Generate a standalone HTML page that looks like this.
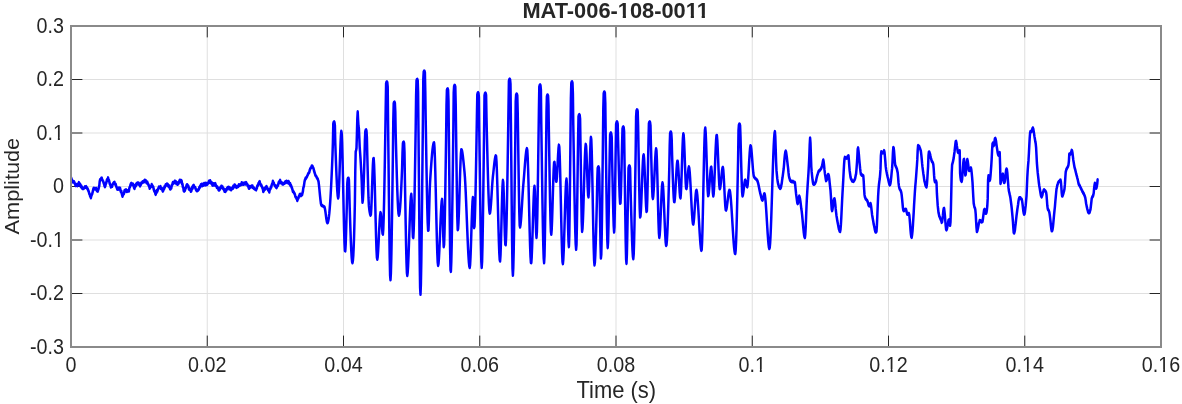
<!DOCTYPE html>
<html><head><meta charset="utf-8"><title>MAT-006-108-0011</title>
<style>html,body{margin:0;padding:0;background:#fff;}body{width:1182px;height:404px;overflow:hidden;}svg{display:block;will-change:transform;}text{font-family:"Liberation Sans",sans-serif;fill:#262626;}.t{font-size:20px;}.l{font-size:21.5px;}.h{font-size:21.6px;font-weight:bold;}</style></head><body>
<svg width="1182" height="404" viewBox="0 0 1182 404">
<rect width="1182" height="404" fill="#fff"/>
<path d="M207.25 26.0 V347.0 M343.50 26.0 V347.0 M479.75 26.0 V347.0 M616.00 26.0 V347.0 M752.25 26.0 V347.0 M888.50 26.0 V347.0 M1024.75 26.0 V347.0 M71.0 79.50 H1161.0 M71.0 133.00 H1161.0 M71.0 186.50 H1161.0 M71.0 240.00 H1161.0 M71.0 293.50 H1161.0" stroke="#dfdfdf" stroke-width="1" fill="none"/>
<path d="M207.25 27.0 v10.4 M207.25 346.0 v-10.4 M343.50 27.0 v10.4 M343.50 346.0 v-10.4 M479.75 27.0 v10.4 M479.75 346.0 v-10.4 M616.00 27.0 v10.4 M616.00 346.0 v-10.4 M752.25 27.0 v10.4 M752.25 346.0 v-10.4 M888.50 27.0 v10.4 M888.50 346.0 v-10.4 M1024.75 27.0 v10.4 M1024.75 346.0 v-10.4 M72.0 79.50 h10.4 M1160.0 79.50 h-10.4 M72.0 133.00 h10.4 M1160.0 133.00 h-10.4 M72.0 186.50 h10.4 M1160.0 186.50 h-10.4 M72.0 240.00 h10.4 M1160.0 240.00 h-10.4 M72.0 293.50 h10.4 M1160.0 293.50 h-10.4" stroke="#262626" stroke-width="1" fill="none"/>
<g transform="scale(1 1.350)"><path d="M71.3 132.05 L71.7 133.43 L72.1 133.27 L72.5 134.04 L72.9 134.77 L73.3 134.47 L73.7 134.78 L74.1 134.59 L74.5 135.33 L74.9 136.14 L75.3 136.85 L75.7 137.47 L76.1 137.24 L76.5 136.71 L76.9 136.87 L77.3 137.60 L77.7 136.38 L78.1 136.46 L78.5 136.88 L78.9 135.25 L79.3 135.99 L79.7 136.94 L80.1 136.36 L80.5 137.32 L80.9 138.35 L81.3 137.67 L81.7 138.63 L82.1 139.36 L82.5 139.62 L82.9 139.68 L83.3 139.59 L83.7 139.67 L84.1 139.13 L84.5 138.89 L84.9 138.34 L85.3 138.68 L85.7 138.57 L86.1 138.25 L86.5 139.01 L86.9 138.97 L87.3 139.64 L87.7 139.90 L88.1 140.97 L88.5 141.33 L88.9 142.26 L89.3 143.46 L89.7 143.81 L90.1 145.32 L90.5 144.98 L90.9 146.48 L91.3 145.22 L91.7 144.37 L92.1 143.77 L92.5 142.67 L92.9 141.59 L93.3 140.08 L93.7 139.38 L94.1 139.82 L94.5 139.52 L94.9 139.76 L95.3 140.12 L95.7 139.97 L96.1 139.52 L96.5 140.41 L96.9 141.32 L97.3 141.21 L97.7 141.62 L98.1 140.86 L98.5 139.94 L98.9 138.58 L99.3 137.55 L99.7 134.51 L100.1 133.13 L100.5 132.84 L100.9 132.77 L101.3 131.95 L101.7 131.88 L102.1 132.81 L102.5 133.43 L102.9 134.05 L103.3 134.53 L103.7 135.64 L104.1 136.44 L104.5 137.64 L104.9 138.35 L105.3 137.77 L105.7 136.54 L106.1 135.79 L106.5 134.72 L106.9 133.25 L107.3 132.82 L107.7 133.03 L108.1 131.69 L108.5 133.55 L108.9 133.46 L109.3 134.58 L109.7 135.88 L110.1 136.73 L110.5 136.88 L110.9 138.58 L111.3 138.21 L111.7 138.03 L112.1 138.05 L112.5 136.79 L112.9 136.37 L113.3 135.91 L113.7 135.45 L114.1 135.69 L114.5 135.02 L114.9 136.11 L115.3 136.65 L115.7 136.53 L116.1 137.80 L116.5 138.48 L116.9 139.40 L117.3 140.13 L117.7 139.45 L118.1 139.63 L118.5 140.13 L118.9 139.20 L119.3 139.20 L119.7 139.59 L120.1 139.42 L120.5 141.09 L120.9 142.02 L121.3 141.64 L121.7 143.21 L122.1 144.41 L122.5 145.42 L122.9 144.31 L123.3 143.45 L123.7 143.74 L124.1 143.03 L124.5 141.24 L124.9 140.94 L125.3 141.31 L125.7 141.47 L126.1 140.52 L126.5 141.41 L126.9 141.80 L127.3 141.59 L127.7 141.20 L128.1 141.17 L128.5 141.59 L128.9 141.57 L129.3 139.57 L129.7 138.59 L130.1 138.19 L130.5 136.86 L130.9 136.17 L131.3 135.79 L131.7 136.51 L132.1 136.74 L132.5 136.32 L132.9 136.33 L133.3 137.15 L133.7 138.07 L134.1 139.11 L134.5 139.67 L134.9 138.14 L135.3 137.21 L135.7 137.80 L136.1 137.30 L136.5 135.98 L136.9 135.85 L137.3 135.48 L137.7 135.50 L138.1 136.34 L138.5 135.55 L138.9 136.38 L139.3 136.83 L139.7 136.87 L140.1 137.74 L140.5 136.11 L140.9 136.71 L141.3 135.48 L141.7 135.56 L142.1 135.31 L142.5 134.73 L142.9 135.01 L143.3 134.81 L143.7 134.28 L144.1 134.69 L144.5 133.63 L144.9 133.48 L145.3 133.64 L145.7 133.97 L146.1 134.02 L146.5 135.40 L146.9 135.59 L147.3 134.88 L147.7 135.84 L148.1 136.23 L148.5 137.15 L148.9 137.48 L149.3 138.38 L149.7 139.52 L150.1 138.56 L150.5 138.62 L150.9 138.17 L151.3 138.04 L151.7 136.66 L152.1 137.33 L152.5 137.84 L152.9 138.19 L153.3 138.65 L153.7 140.17 L154.1 141.16 L154.5 141.85 L154.9 141.68 L155.3 143.47 L155.7 143.97 L156.1 143.04 L156.5 142.62 L156.9 141.09 L157.3 141.77 L157.7 140.79 L158.1 139.83 L158.5 139.51 L158.9 138.56 L159.3 138.64 L159.7 138.46 L160.1 138.90 L160.5 138.14 L160.9 139.70 L161.3 139.47 L161.7 139.88 L162.1 139.80 L162.5 141.08 L162.9 141.65 L163.3 140.98 L163.7 139.79 L164.1 139.95 L164.5 138.33 L164.9 138.69 L165.3 137.70 L165.7 136.87 L166.1 137.02 L166.5 137.03 L166.9 136.31 L167.3 137.03 L167.7 136.48 L168.1 137.63 L168.5 138.04 L168.9 137.46 L169.3 138.79 L169.7 138.81 L170.1 139.95 L170.5 140.09 L170.9 139.51 L171.3 139.38 L171.7 137.32 L172.1 137.24 L172.5 136.11 L172.9 135.16 L173.3 135.82 L173.7 135.13 L174.1 135.24 L174.5 134.45 L174.9 134.12 L175.3 135.42 L175.7 134.49 L176.1 134.77 L176.5 136.14 L176.9 135.94 L177.3 136.07 L177.7 136.50 L178.1 135.34 L178.5 135.81 L178.9 135.07 L179.3 134.24 L179.7 133.48 L180.1 133.47 L180.5 134.58 L180.9 133.88 L181.3 133.66 L181.7 134.23 L182.1 136.24 L182.5 136.40 L182.9 138.59 L183.3 138.89 L183.7 141.31 L184.1 141.62 L184.5 140.37 L184.9 141.10 L185.3 139.64 L185.7 139.57 L186.1 138.64 L186.5 137.41 L186.9 136.87 L187.3 136.87 L187.7 137.35 L188.1 137.69 L188.5 138.21 L188.9 140.08 L189.3 139.35 L189.7 140.49 L190.1 140.41 L190.5 141.02 L190.9 141.71 L191.3 141.41 L191.7 140.12 L192.1 138.81 L192.5 139.65 L192.9 137.63 L193.3 137.56 L193.7 137.25 L194.1 138.17 L194.5 138.53 L194.9 138.70 L195.3 138.88 L195.7 140.04 L196.1 140.59 L196.5 141.09 L196.9 141.33 L197.3 140.85 L197.7 141.06 L198.1 140.84 L198.5 140.35 L198.9 140.29 L199.3 138.86 L199.7 138.94 L200.1 137.97 L200.5 138.05 L200.9 136.79 L201.3 137.12 L201.7 136.47 L202.1 136.54 L202.5 137.53 L202.9 136.53 L203.3 137.30 L203.7 136.67 L204.1 135.88 L204.5 136.94 L204.9 135.85 L205.3 136.99 L205.7 135.78 L206.1 136.77 L206.5 135.96 L206.9 135.98 L207.3 136.62 L207.7 135.66 L208.1 135.63 L208.5 135.47 L208.9 134.26 L209.3 135.07 L209.7 134.94 L210.1 133.79 L210.5 134.76 L210.9 134.78 L211.3 135.89 L211.7 135.27 L212.1 136.39 L212.5 137.17 L212.9 137.04 L213.3 136.08 L213.7 137.11 L214.1 136.18 L214.5 136.99 L214.9 136.49 L215.3 135.95 L215.7 136.97 L216.1 137.58 L216.5 137.96 L216.9 138.92 L217.3 138.45 L217.7 139.01 L218.1 139.44 L218.5 140.57 L218.9 140.87 L219.3 140.79 L219.7 140.44 L220.1 139.62 L220.5 138.66 L220.9 138.80 L221.3 137.99 L221.7 137.92 L222.1 139.01 L222.5 138.31 L222.9 139.42 L223.3 139.87 L223.7 139.78 L224.1 140.50 L224.5 141.66 L224.9 141.13 L225.3 141.82 L225.7 141.57 L226.1 140.38 L226.5 140.82 L226.9 139.79 L227.3 139.13 L227.7 139.03 L228.1 138.71 L228.5 139.29 L228.9 138.81 L229.3 139.95 L229.7 139.55 L230.1 139.28 L230.5 139.73 L230.9 140.57 L231.3 140.55 L231.7 139.78 L232.1 139.26 L232.5 138.95 L232.9 139.50 L233.3 137.85 L233.7 138.66 L234.1 138.27 L234.5 137.02 L234.9 136.99 L235.3 137.53 L235.7 138.11 L236.1 138.57 L236.5 138.87 L236.9 138.05 L237.3 138.13 L237.7 138.35 L238.1 138.14 L238.5 137.95 L238.9 136.79 L239.3 137.24 L239.7 137.31 L240.1 136.98 L240.5 136.78 L240.9 136.72 L241.3 136.74 L241.7 135.35 L242.1 136.60 L242.5 135.61 L242.9 135.65 L243.3 135.82 L243.7 136.52 L244.1 135.97 L244.5 135.57 L244.9 135.57 L245.3 136.33 L245.7 136.18 L246.1 135.24 L246.5 135.81 L246.9 136.43 L247.3 136.66 L247.7 137.64 L248.1 137.60 L248.5 138.56 L248.9 139.50 L249.3 139.43 L249.7 138.18 L250.1 138.20 L250.5 138.36 L250.9 138.55 L251.3 138.02 L251.7 137.69 L252.1 137.71 L252.5 137.76 L252.9 139.02 L253.3 139.07 L253.7 138.96 L254.1 139.69 L254.5 139.73 L254.9 140.04 L255.3 140.08 L255.7 140.41 L256.1 140.65 L256.5 139.82 L256.9 139.32 L257.3 137.70 L257.7 137.67 L258.1 136.88 L258.5 135.89 L258.9 135.79 L259.3 134.79 L259.7 134.53 L260.1 136.01 L260.5 136.53 L260.9 137.28 L261.3 137.12 L261.7 138.01 L262.1 138.56 L262.5 139.40 L262.9 140.09 L263.3 141.89 L263.7 141.44 L264.1 140.03 L264.5 139.70 L264.9 140.33 L265.3 139.34 L265.7 138.65 L266.1 138.43 L266.5 138.16 L266.9 139.04 L267.3 139.69 L267.7 139.85 L268.1 140.76 L268.5 140.17 L268.9 141.33 L269.3 142.30 L269.7 140.51 L270.1 140.29 L270.5 139.72 L270.9 138.48 L271.3 138.60 L271.7 137.09 L272.1 136.30 L272.5 136.20 L272.9 134.21 L273.3 135.96 L273.7 135.39 L274.1 136.32 L274.5 137.05 L274.9 137.60 L275.3 137.51 L275.7 138.43 L276.1 138.62 L276.5 139.07 L276.9 138.54 L277.3 137.56 L277.7 137.57 L278.1 136.96 L278.5 135.73 L278.9 134.85 L279.3 135.10 L279.7 134.23 L280.1 133.50 L280.5 135.16 L280.9 135.39 L281.3 135.00 L281.7 135.39 L282.1 135.73 L282.5 136.37 L282.9 135.94 L283.3 136.34 L283.7 135.88 L284.1 135.67 L284.5 135.84 L284.9 135.15 L285.3 134.59 L285.7 134.83 L286.1 135.14 L286.5 134.19 L286.9 134.83 L287.3 134.58 L287.7 134.73 L288.1 135.33 L288.5 134.37 L288.9 134.78 L289.3 136.13 L289.7 136.44 L290.1 135.87 L290.5 137.58 L290.9 137.15 L291.3 138.03 L291.7 138.70 L292.1 139.68 L292.5 140.52 L292.9 141.96 L293.3 141.92 L293.7 142.13 L294.1 143.03 L294.5 143.31 L294.9 144.02 L295.3 145.28 L295.7 146.05 L296.1 146.30 L296.5 147.11 L296.9 147.29 L297.3 148.58 L297.7 147.64 L298.1 146.69 L298.5 146.56 L298.9 145.49 L299.3 144.98 L299.7 144.15 L300.1 144.71 L300.5 143.98 L300.9 144.95 L301.3 144.16 L301.7 143.82 L302.1 144.29 L302.5 143.03 L302.9 141.76 L303.3 139.22 L303.7 138.42 L304.1 136.85 L304.5 134.58 L304.9 133.33 L305.3 132.76 L305.7 131.79 L306.1 131.99 L306.5 131.30 L306.9 130.99 L307.3 130.08 L307.7 129.67 L308.1 128.81 L308.5 128.31 L308.9 128.04 L309.3 127.55 L309.7 126.09 L310.1 125.29 L310.5 124.63 L310.9 124.29 L311.3 124.00 L311.7 123.05 L312.1 122.87 L312.5 123.17 L312.9 124.06 L313.3 124.42 L313.7 125.30 L314.1 126.65 L314.5 127.59 L314.9 128.51 L315.3 129.57 L315.7 130.11 L316.1 130.32 L316.5 131.06 L316.9 131.67 L317.3 132.24 L317.7 132.43 L318.1 133.48 L318.5 134.33 L318.9 136.70 L319.3 139.40 L319.7 142.58 L320.1 145.59 L320.5 148.27 L320.9 150.64 L321.3 151.79 L321.7 152.20 L322.1 152.26 L322.5 152.47 L322.9 152.64 L323.3 152.71 L323.7 152.90 L324.1 153.12 L324.5 153.45 L324.9 154.49 L325.3 156.23 L325.7 158.38 L326.1 160.64 L326.5 162.70 L326.9 164.28 L327.3 165.07 L327.7 164.93 L328.1 164.13 L328.5 162.69 L328.9 160.61 L329.3 157.91 L329.7 154.59 L330.1 150.66 L330.5 146.14 L330.9 141.02 L331.3 135.33 L331.7 129.06 L332.1 122.22 L332.5 114.83 L332.9 105.41 L333.3 91.61 L333.7 90.49 L334.1 90.15 L334.5 90.71 L334.9 93.05 L335.3 106.22 L335.7 114.60 L336.1 122.63 L336.5 130.01 L336.9 136.41 L337.3 141.55 L337.7 145.09 L338.1 146.74 L338.5 145.63 L338.9 140.80 L339.3 133.33 L339.7 124.39 L340.1 115.13 L340.5 106.74 L340.9 100.37 L341.3 97.20 L341.7 98.65 L342.1 105.31 L342.5 115.89 L342.9 129.04 L343.3 143.39 L343.7 157.59 L344.1 170.28 L344.5 180.11 L344.9 185.72 L345.3 185.85 L345.7 180.80 L346.1 172.11 L346.5 161.31 L346.9 149.96 L347.3 135.70 L347.7 132.66 L348.1 131.94 L348.5 131.99 L348.9 133.12 L349.3 142.17 L349.7 153.70 L350.1 162.89 L350.5 171.59 L350.9 179.41 L351.3 186.01 L351.7 190.99 L352.1 194.00 L352.5 194.68 L352.9 193.10 L353.3 189.27 L353.7 183.10 L354.1 174.48 L354.5 163.31 L354.9 149.47 L355.3 126.00 L355.7 112.41 L356.1 111.28 L356.5 109.75 L356.9 99.68 L357.3 88.23 L357.7 82.82 L358.1 88.58 L358.5 93.25 L358.9 95.27 L359.3 101.85 L359.7 108.74 L360.1 113.07 L360.5 117.23 L360.9 122.33 L361.3 127.82 L361.7 133.98 L362.1 143.48 L362.5 149.85 L362.9 148.00 L363.3 142.89 L363.7 135.36 L364.1 126.22 L364.5 116.32 L364.9 103.82 L365.3 97.26 L365.7 96.34 L366.1 96.18 L366.5 97.03 L366.9 101.83 L367.3 115.20 L367.7 126.59 L368.1 137.54 L368.5 146.65 L368.9 152.51 L369.3 155.07 L369.7 157.08 L370.1 158.56 L370.5 159.37 L370.9 158.89 L371.3 154.53 L371.7 147.16 L372.1 138.28 L372.5 129.37 L372.9 121.94 L373.3 117.47 L373.7 117.42 L374.1 122.03 L374.5 130.23 L374.9 140.87 L375.3 152.82 L375.7 164.93 L376.1 176.05 L376.5 185.04 L376.9 190.76 L377.3 192.14 L377.7 190.22 L378.1 186.25 L378.5 180.90 L378.9 174.86 L379.3 168.82 L379.7 163.44 L380.1 159.42 L380.5 157.43 L380.9 158.13 L381.3 161.20 L381.7 165.46 L382.1 169.73 L382.5 172.84 L382.9 173.55 L383.3 169.61 L383.7 161.08 L384.1 148.87 L384.5 133.89 L384.9 117.06 L385.3 99.31 L385.7 80.05 L386.1 61.97 L386.5 60.85 L386.9 60.52 L387.3 61.06 L387.7 64.17 L388.1 92.86 L388.5 118.05 L388.9 144.71 L389.3 169.91 L389.7 190.69 L390.1 204.11 L390.5 207.35 L390.9 202.25 L391.3 191.29 L391.7 175.75 L392.1 156.95 L392.5 136.19 L392.9 114.76 L393.3 88.77 L393.7 76.64 L394.1 75.74 L394.5 75.59 L394.9 76.42 L395.3 82.69 L395.7 99.32 L396.1 110.67 L396.5 121.59 L396.9 131.75 L397.3 140.82 L397.7 148.45 L398.1 154.33 L398.5 158.12 L398.9 159.48 L399.3 158.82 L399.7 156.86 L400.1 153.72 L400.5 149.52 L400.9 144.36 L401.3 138.37 L401.7 131.65 L402.1 124.31 L402.5 113.17 L402.9 106.29 L403.3 105.38 L403.7 105.22 L404.1 106.05 L404.5 112.75 L404.9 132.92 L405.3 149.72 L405.7 166.58 L406.1 181.97 L406.5 194.36 L406.9 202.22 L407.3 204.13 L407.7 201.80 L408.1 196.86 L408.5 189.97 L408.9 181.81 L409.3 173.06 L409.7 164.38 L410.1 156.44 L410.5 149.93 L410.9 145.51 L411.3 143.85 L411.7 147.90 L412.1 157.42 L412.5 168.08 L412.9 175.55 L413.3 176.05 L413.7 170.63 L414.1 160.63 L414.5 147.02 L414.9 130.78 L415.3 112.86 L415.7 94.25 L416.1 71.03 L416.5 59.83 L416.9 58.93 L417.3 58.77 L417.7 59.59 L418.1 68.06 L418.5 98.29 L418.9 129.71 L419.3 163.17 L419.7 192.88 L420.1 213.02 L420.5 218.06 L420.9 210.43 L421.3 194.28 L421.7 171.92 L422.1 145.63 L422.5 117.70 L422.9 90.43 L423.3 58.37 L423.7 53.30 L424.1 52.60 L424.5 52.65 L424.9 53.77 L425.3 67.85 L425.7 88.58 L426.1 106.68 L426.5 124.43 L426.9 140.78 L427.3 154.64 L427.7 164.97 L428.1 170.68 L428.5 170.41 L428.9 162.97 L429.3 151.84 L429.7 141.05 L430.1 134.44 L430.5 129.81 L430.9 125.37 L431.3 121.19 L431.7 117.35 L432.1 113.92 L432.5 110.98 L432.9 108.61 L433.3 106.88 L433.7 105.87 L434.1 105.77 L434.5 109.28 L434.9 116.75 L435.3 127.14 L435.7 139.45 L436.1 152.67 L436.5 165.77 L436.9 177.74 L437.3 187.57 L437.7 194.24 L438.1 196.74 L438.5 195.40 L438.9 191.70 L439.3 186.22 L439.7 179.55 L440.1 172.29 L440.5 165.02 L440.9 158.32 L441.3 152.80 L441.7 149.04 L442.1 147.63 L442.5 152.48 L442.9 163.67 L443.3 175.62 L443.7 182.79 L444.1 181.15 L444.5 172.66 L444.9 158.94 L445.3 141.54 L445.7 121.98 L446.1 101.79 L446.5 77.89 L446.9 66.87 L447.3 65.96 L447.7 65.81 L448.1 66.63 L448.5 74.66 L448.9 102.50 L449.3 130.54 L449.7 159.72 L450.1 184.59 L450.5 199.76 L450.9 201.09 L451.3 194.01 L451.7 181.07 L452.1 163.65 L452.5 143.15 L452.9 120.96 L453.3 98.46 L453.7 68.87 L454.1 63.89 L454.5 63.19 L454.9 63.24 L455.3 64.36 L455.7 76.92 L456.1 98.66 L456.5 121.25 L456.9 143.41 L457.3 161.09 L457.7 170.20 L458.1 169.53 L458.5 164.84 L458.9 157.42 L459.3 148.26 L459.7 138.35 L460.1 128.67 L460.5 120.21 L460.9 113.95 L461.3 110.89 L461.7 110.97 L462.1 111.98 L462.5 113.65 L462.9 115.85 L463.3 118.46 L463.7 121.33 L464.1 124.35 L464.5 127.37 L464.9 131.07 L465.3 136.10 L465.7 142.17 L466.1 149.00 L466.5 156.30 L466.9 163.81 L467.3 171.23 L467.7 178.28 L468.1 184.69 L468.5 190.16 L468.9 194.43 L469.3 197.21 L469.7 198.22 L470.1 196.17 L470.5 190.62 L470.9 182.69 L471.3 173.50 L471.7 164.15 L472.1 155.76 L472.5 149.44 L472.9 146.30 L473.3 149.63 L473.7 160.36 L474.1 168.68 L474.5 167.64 L474.9 161.10 L475.3 150.43 L475.7 136.70 L476.1 120.96 L476.5 104.28 L476.9 86.39 L477.3 69.97 L477.7 68.86 L478.1 68.52 L478.5 69.06 L478.9 72.03 L479.3 97.73 L479.7 119.33 L480.1 141.86 L480.5 163.18 L480.9 181.11 L481.3 193.52 L481.7 198.22 L482.1 193.83 L482.5 181.73 L482.9 163.97 L483.3 142.58 L483.7 119.59 L484.1 97.04 L484.5 70.70 L484.9 69.35 L485.3 68.84 L485.7 69.12 L486.1 70.54 L486.5 86.91 L486.9 99.95 L487.3 112.13 L487.7 123.71 L488.1 134.27 L488.5 143.38 L488.9 150.65 L489.3 155.65 L489.7 157.96 L490.1 157.55 L490.5 155.36 L490.9 151.88 L491.3 147.57 L491.7 142.85 L492.1 138.19 L492.5 134.01 L492.9 130.78 L493.3 128.07 L493.7 125.27 L494.1 122.52 L494.5 119.99 L494.9 117.85 L495.3 116.26 L495.7 115.38 L496.1 115.77 L496.5 119.72 L496.9 126.84 L497.3 136.27 L497.7 147.12 L498.1 158.54 L498.5 169.64 L498.9 179.55 L499.3 187.40 L499.7 192.32 L500.1 193.38 L500.5 189.19 L500.9 180.69 L501.3 169.60 L501.7 157.62 L502.1 146.48 L502.5 137.89 L502.9 133.55 L503.3 135.20 L503.7 142.51 L504.1 153.15 L504.5 164.71 L504.9 174.82 L505.3 181.07 L505.7 181.33 L506.1 176.06 L506.5 166.30 L506.9 152.92 L507.3 136.82 L507.7 118.89 L508.1 100.01 L508.5 79.45 L508.9 60.05 L509.3 58.93 L509.7 58.59 L510.1 59.13 L510.5 62.19 L510.9 90.81 L511.3 119.57 L511.7 151.11 L512.1 179.55 L512.5 199.02 L512.9 203.99 L513.3 198.31 L513.7 186.17 L514.1 169.12 L514.5 148.73 L514.9 126.55 L515.3 104.13 L515.7 75.20 L516.1 70.34 L516.5 69.64 L516.9 69.69 L517.3 70.81 L517.7 82.68 L518.1 102.41 L518.5 122.18 L518.9 141.57 L519.3 157.54 L519.7 167.05 L520.1 168.24 L520.5 166.64 L520.9 163.73 L521.3 159.84 L521.7 155.29 L522.1 150.40 L522.5 145.50 L522.9 140.91 L523.3 136.97 L523.7 133.56 L524.1 129.86 L524.5 126.00 L524.9 122.17 L525.3 118.56 L525.7 115.35 L526.1 112.73 L526.5 110.90 L526.9 110.04 L527.3 111.25 L527.7 116.50 L528.1 124.97 L528.5 135.70 L528.9 147.75 L529.3 160.17 L529.7 172.01 L530.1 182.33 L530.5 190.16 L530.9 194.56 L531.3 194.64 L531.7 190.54 L532.1 183.34 L532.5 174.16 L532.9 164.13 L533.3 154.37 L533.7 145.98 L534.1 140.10 L534.5 137.85 L534.9 141.71 L535.3 151.10 L535.7 162.37 L536.1 171.86 L536.5 175.93 L536.9 171.77 L537.3 160.41 L537.7 143.87 L538.1 124.18 L538.5 103.37 L538.9 82.09 L539.3 64.27 L539.7 63.15 L540.1 62.81 L540.5 63.36 L540.9 66.38 L541.3 92.34 L541.7 112.13 L542.1 132.23 L542.5 151.41 L542.9 168.47 L543.3 182.19 L543.7 191.35 L544.1 194.74 L544.5 189.62 L544.9 175.76 L545.3 155.87 L545.7 132.69 L546.1 108.93 L546.5 82.73 L546.9 71.39 L547.3 70.48 L547.7 70.33 L548.1 71.16 L548.5 78.04 L548.9 98.98 L549.3 116.53 L549.7 134.18 L550.1 150.33 L550.5 163.34 L550.9 171.60 L551.3 173.56 L551.7 170.03 L552.1 162.83 L552.5 153.35 L552.9 142.98 L553.3 133.12 L553.7 125.15 L554.1 120.46 L554.5 120.17 L554.9 122.96 L555.3 127.20 L555.7 131.46 L556.1 134.30 L556.5 134.33 L556.9 131.34 L557.3 126.33 L557.7 120.36 L558.1 114.51 L558.5 109.86 L558.9 107.46 L559.3 108.84 L559.7 115.09 L560.1 125.06 L560.5 137.51 L560.9 151.21 L561.3 164.93 L561.7 177.44 L562.1 187.49 L562.5 193.86 L562.9 195.36 L563.3 192.41 L563.7 186.23 L564.1 177.78 L564.5 167.99 L564.9 157.84 L565.3 148.27 L565.7 140.24 L566.1 134.69 L566.5 132.59 L566.9 136.21 L567.3 145.44 L567.7 157.49 L568.1 169.58 L568.5 178.93 L568.9 182.74 L569.3 174.92 L569.7 154.75 L570.1 127.90 L570.5 100.07 L570.9 72.55 L571.3 61.61 L571.7 60.70 L572.1 60.55 L572.5 61.38 L572.9 69.34 L573.3 93.09 L573.7 111.04 L574.1 128.80 L574.5 145.52 L574.9 160.33 L575.3 172.38 L575.7 180.81 L576.1 184.77 L576.5 181.39 L576.9 167.33 L577.3 146.70 L577.7 123.92 L578.1 102.27 L578.5 86.34 L578.9 85.23 L579.3 84.89 L579.7 85.44 L580.1 87.96 L580.5 106.56 L580.9 126.19 L581.3 147.38 L581.7 164.39 L582.1 171.48 L582.5 169.43 L582.9 163.81 L583.3 155.60 L583.7 145.78 L584.1 135.33 L584.5 125.23 L584.9 116.48 L585.3 110.04 L585.7 106.90 L586.1 108.14 L586.5 113.66 L586.9 121.78 L587.3 130.79 L587.7 138.96 L588.1 144.57 L588.5 145.90 L588.9 141.84 L589.3 133.85 L589.7 123.88 L590.1 113.89 L590.5 105.82 L590.9 101.62 L591.3 103.31 L591.7 111.13 L592.1 123.44 L592.5 138.53 L592.9 154.71 L593.3 170.28 L593.7 183.53 L594.1 192.77 L594.5 196.30 L594.9 194.45 L595.3 189.23 L595.7 181.32 L596.1 171.38 L596.5 160.07 L596.9 148.07 L597.3 132.64 L597.7 124.66 L598.1 123.75 L598.5 123.59 L598.9 124.43 L599.3 129.53 L599.7 145.80 L600.1 163.91 L600.5 181.30 L600.9 191.24 L601.3 188.56 L601.7 175.50 L602.1 155.37 L602.5 131.41 L602.9 106.84 L603.3 80.40 L603.7 69.16 L604.1 68.26 L604.5 68.10 L604.9 68.93 L605.3 76.20 L605.7 99.80 L606.1 121.58 L606.5 143.92 L606.9 163.73 L607.3 177.95 L607.7 183.48 L608.1 178.91 L608.5 166.87 L608.9 150.27 L609.3 132.04 L609.7 114.06 L610.1 99.90 L610.5 98.79 L610.9 98.44 L611.3 99.00 L611.7 101.45 L612.1 117.69 L612.5 131.25 L612.9 145.17 L613.3 157.74 L613.7 167.25 L614.1 171.99 L614.5 168.00 L614.9 152.09 L615.3 130.61 L615.7 110.27 L616.1 92.03 L616.5 90.69 L616.9 90.17 L617.3 90.46 L617.7 91.87 L618.1 104.05 L618.5 115.50 L618.9 126.92 L619.3 137.46 L619.7 145.80 L620.1 150.64 L620.5 150.41 L620.9 143.62 L621.3 132.39 L621.7 119.29 L622.1 106.10 L622.5 95.39 L622.9 94.28 L623.3 93.93 L623.7 94.47 L624.1 97.15 L624.5 118.21 L624.9 138.30 L625.3 159.83 L625.7 178.99 L626.1 192.02 L626.5 195.18 L626.9 188.12 L627.3 174.39 L627.7 157.58 L628.1 141.30 L628.5 124.70 L628.9 123.36 L629.3 122.84 L629.7 123.13 L630.1 124.54 L630.5 137.95 L630.9 149.11 L631.3 159.70 L631.7 169.67 L632.1 178.44 L632.5 185.43 L632.9 190.07 L633.3 191.78 L633.7 188.44 L634.1 179.15 L634.5 165.34 L634.9 148.40 L635.3 129.77 L635.7 110.84 L636.1 86.37 L636.5 82.05 L636.9 81.34 L637.3 81.39 L637.7 82.52 L638.1 92.69 L638.5 109.26 L638.9 125.80 L639.3 141.75 L639.7 154.34 L640.1 160.78 L640.5 160.12 L640.9 156.07 L641.3 149.74 L641.7 142.02 L642.1 133.84 L642.5 126.09 L642.9 119.71 L643.3 115.58 L643.7 114.64 L644.1 117.44 L644.5 123.15 L644.9 130.68 L645.3 138.91 L645.7 146.74 L646.1 153.07 L646.5 156.79 L646.9 156.20 L647.3 147.96 L647.7 134.42 L648.1 118.81 L648.5 103.50 L648.9 91.61 L649.3 90.49 L649.7 90.15 L650.1 90.71 L650.5 93.00 L650.9 106.43 L651.3 117.69 L651.7 129.11 L652.1 138.97 L652.5 145.54 L652.9 147.17 L653.3 145.12 L653.7 140.88 L654.1 135.17 L654.5 128.72 L654.9 122.26 L655.3 116.52 L655.7 112.23 L656.1 110.11 L656.5 111.67 L656.9 118.44 L657.3 128.85 L657.7 141.19 L658.1 153.77 L658.5 164.88 L658.9 172.84 L659.3 175.93 L659.7 174.22 L660.1 169.65 L660.5 163.16 L660.9 155.70 L661.3 148.23 L661.7 141.69 L662.1 137.05 L662.5 135.26 L662.9 136.74 L663.3 140.80 L663.7 146.73 L664.1 153.82 L664.5 161.36 L664.9 168.65 L665.3 174.97 L665.7 179.62 L666.1 181.89 L666.5 181.29 L666.9 178.21 L667.3 172.95 L667.7 165.81 L668.1 157.07 L668.5 147.02 L668.9 135.97 L669.3 124.20 L669.7 107.79 L670.1 98.80 L670.5 97.89 L670.9 97.74 L671.3 98.59 L671.7 103.30 L672.1 115.24 L672.5 124.22 L672.9 132.83 L673.3 140.35 L673.7 146.09 L674.1 149.32 L674.5 149.45 L674.9 146.99 L675.3 142.72 L675.7 137.35 L676.1 131.62 L676.5 126.24 L676.9 121.92 L677.3 119.40 L677.7 119.39 L678.1 122.06 L678.5 126.60 L678.9 132.13 L679.3 137.78 L679.7 142.68 L680.1 145.95 L680.5 146.68 L680.9 143.34 L681.3 136.58 L681.7 127.75 L682.1 118.22 L682.5 109.35 L682.9 102.51 L683.3 99.06 L683.7 100.07 L684.1 104.83 L684.5 112.03 L684.9 120.39 L685.3 128.60 L685.7 135.37 L686.1 139.41 L686.5 139.74 L686.9 137.81 L687.3 134.62 L687.7 130.88 L688.1 127.31 L688.5 124.63 L688.9 123.56 L689.3 124.56 L689.7 127.38 L690.1 131.59 L690.5 136.78 L690.9 142.54 L691.3 148.47 L691.7 154.14 L692.1 159.15 L692.5 163.08 L692.9 165.53 L693.3 166.08 L693.7 164.52 L694.1 161.32 L694.5 157.07 L694.9 152.36 L695.3 147.80 L695.7 143.97 L696.1 141.46 L696.5 140.86 L696.9 142.00 L697.3 144.47 L697.7 148.02 L698.1 152.39 L698.5 157.31 L698.9 162.53 L699.3 167.78 L699.7 172.81 L700.1 177.35 L700.5 181.16 L700.9 183.96 L701.3 185.49 L701.7 184.98 L702.1 179.41 L702.5 169.51 L702.9 156.66 L703.3 142.24 L703.7 127.62 L704.1 114.19 L704.5 103.34 L704.9 96.43 L705.3 94.81 L705.7 98.34 L706.1 105.48 L706.5 114.80 L706.9 124.85 L707.3 134.21 L707.7 141.43 L708.1 145.08 L708.5 144.67 L708.9 142.31 L709.3 138.70 L709.7 134.47 L710.1 130.23 L710.5 126.59 L710.9 124.19 L711.3 123.68 L711.7 126.60 L712.1 132.01 L712.5 138.13 L712.9 143.14 L713.3 145.26 L713.7 143.57 L714.1 138.99 L714.5 132.41 L714.9 124.70 L715.3 116.76 L715.7 109.48 L716.1 103.73 L716.5 100.40 L716.9 100.38 L717.3 103.78 L717.7 109.65 L718.1 116.96 L718.5 124.66 L718.9 131.74 L719.3 137.15 L719.7 139.86 L720.1 139.56 L720.5 137.80 L720.9 135.12 L721.3 131.97 L721.7 128.81 L722.1 126.11 L722.5 124.32 L722.9 123.94 L723.3 126.03 L723.7 130.29 L724.1 135.90 L724.5 142.04 L724.9 147.88 L725.3 152.60 L725.7 155.38 L726.1 155.65 L726.5 154.69 L726.9 152.98 L727.3 150.78 L727.7 148.33 L728.1 145.88 L728.5 143.67 L728.9 141.94 L729.3 140.96 L729.7 140.98 L730.1 142.25 L730.5 144.62 L730.9 147.90 L731.3 151.90 L731.7 156.41 L732.1 161.24 L732.5 166.20 L732.9 171.09 L733.3 175.71 L733.7 179.86 L734.1 183.36 L734.5 186.01 L734.9 187.61 L735.3 187.89 L735.7 185.12 L736.1 179.03 L736.5 170.17 L736.9 159.08 L737.3 146.31 L737.7 132.41 L738.1 117.92 L738.5 96.66 L738.9 92.57 L739.3 91.86 L739.7 91.92 L740.1 93.05 L740.5 100.91 L740.9 112.76 L741.3 124.03 L741.7 134.48 L742.1 142.20 L742.5 145.26 L742.9 144.57 L743.3 142.77 L743.7 140.32 L744.1 137.69 L744.5 135.35 L744.9 133.76 L745.3 133.37 L745.7 134.13 L746.1 135.52 L746.5 137.04 L746.9 138.19 L747.3 138.45 L747.7 136.76 L748.1 133.26 L748.5 128.54 L748.9 123.22 L749.3 117.90 L749.7 113.16 L750.1 109.61 L750.5 107.86 L750.9 108.26 L751.3 110.22 L751.7 113.29 L752.1 117.05 L752.5 121.06 L752.9 124.87 L753.3 128.06 L753.7 130.20 L754.1 131.03 L754.5 131.51 L754.9 131.87 L755.3 132.15 L755.7 132.39 L756.1 132.64 L756.5 132.92 L756.9 133.28 L757.3 133.77 L757.7 134.52 L758.1 135.59 L758.5 136.89 L758.9 138.34 L759.3 139.84 L759.7 141.31 L760.1 142.66 L760.5 143.82 L760.9 145.03 L761.3 146.28 L761.7 147.37 L762.1 148.10 L762.5 148.26 L762.9 147.55 L763.3 146.24 L763.7 144.80 L764.1 143.71 L764.5 143.45 L764.9 144.53 L765.3 146.86 L765.7 150.20 L766.1 154.29 L766.5 158.89 L766.9 163.75 L767.3 168.60 L767.7 173.21 L768.1 177.33 L768.5 180.69 L768.9 183.05 L769.3 184.17 L769.7 183.50 L770.1 180.42 L770.5 175.28 L770.9 168.48 L771.3 160.42 L771.7 151.50 L772.1 142.13 L772.5 132.70 L772.9 123.62 L773.3 115.28 L773.7 108.09 L774.1 102.45 L774.5 98.75 L774.9 97.41 L775.3 101.14 L775.7 110.13 L776.1 119.81 L776.5 126.26 L776.9 129.43 L777.3 132.37 L777.7 134.68 L778.1 136.05 L778.5 137.11 L778.9 138.20 L779.3 138.78 L779.7 139.12 L780.1 139.66 L780.5 139.43 L780.9 138.90 L781.3 137.28 L781.7 135.87 L782.1 133.52 L782.5 131.62 L782.9 129.43 L783.3 127.19 L783.7 124.94 L784.1 121.49 L784.5 117.53 L784.9 114.62 L785.3 112.58 L785.7 111.86 L786.1 112.61 L786.5 114.60 L786.9 116.83 L787.3 119.60 L787.7 122.25 L788.1 124.57 L788.5 127.82 L788.9 130.28 L789.3 131.66 L789.7 132.51 L790.1 133.60 L790.5 133.83 L790.9 134.30 L791.3 134.43 L791.7 134.19 L792.1 134.70 L792.5 134.59 L792.9 134.33 L793.3 134.82 L793.7 134.78 L794.1 134.96 L794.5 134.92 L794.9 135.27 L795.3 137.69 L795.7 140.67 L796.1 143.73 L796.5 145.88 L796.9 148.10 L797.3 150.29 L797.7 150.88 L798.1 150.13 L798.5 148.07 L798.9 146.04 L799.3 145.17 L799.7 146.22 L800.1 147.61 L800.5 149.56 L800.9 152.02 L801.3 154.56 L801.7 156.48 L802.1 159.04 L802.5 162.20 L802.9 165.42 L803.3 168.82 L803.7 171.75 L804.1 174.09 L804.5 175.59 L804.9 176.09 L805.3 173.69 L805.7 168.49 L806.1 160.93 L806.5 152.95 L806.9 146.62 L807.3 141.62 L807.7 136.58 L808.1 132.18 L808.5 127.70 L808.9 122.13 L809.3 115.92 L809.7 107.31 L810.1 102.15 L810.5 105.84 L810.9 115.23 L811.3 123.60 L811.7 127.42 L812.1 130.35 L812.5 132.89 L812.9 134.96 L813.3 136.32 L813.7 136.54 L814.1 136.48 L814.5 136.22 L814.9 136.14 L815.3 135.36 L815.7 134.72 L816.1 133.92 L816.5 132.20 L816.9 130.98 L817.3 129.77 L817.7 129.02 L818.1 128.00 L818.5 127.07 L818.9 126.61 L819.3 126.33 L819.7 126.46 L820.1 125.81 L820.5 125.62 L820.9 125.07 L821.3 124.60 L821.7 123.67 L822.1 122.57 L822.5 121.37 L822.9 119.55 L823.3 118.43 L823.7 119.93 L824.1 122.67 L824.5 125.86 L824.9 128.37 L825.3 130.35 L825.7 132.41 L826.1 133.86 L826.5 133.54 L826.9 132.76 L827.3 131.23 L827.7 130.02 L828.1 129.15 L828.5 129.27 L828.9 130.45 L829.3 132.60 L829.7 135.63 L830.1 138.38 L830.5 140.96 L830.9 145.34 L831.3 150.70 L831.7 154.92 L832.1 156.12 L832.5 155.14 L832.9 152.92 L833.3 150.71 L833.7 148.25 L834.1 147.29 L834.5 147.26 L834.9 148.66 L835.3 151.28 L835.7 154.63 L836.1 157.35 L836.5 159.82 L836.9 161.58 L837.3 163.57 L837.7 164.98 L838.1 166.58 L838.5 168.16 L838.9 169.77 L839.3 170.39 L839.7 171.35 L840.1 171.56 L840.5 170.12 L840.9 166.42 L841.3 161.26 L841.7 154.83 L842.1 148.70 L842.5 143.06 L842.9 137.99 L843.3 132.61 L843.7 126.72 L844.1 121.45 L844.5 117.81 L844.9 116.49 L845.3 116.78 L845.7 117.07 L846.1 117.11 L846.5 116.98 L846.9 117.20 L847.3 116.91 L847.7 115.82 L848.1 115.53 L848.5 115.35 L848.9 118.84 L849.3 123.17 L849.7 126.69 L850.1 128.82 L850.5 131.01 L850.9 132.24 L851.3 132.89 L851.7 133.21 L852.1 134.14 L852.5 134.11 L852.9 134.31 L853.3 134.45 L853.7 134.22 L854.1 133.89 L854.5 133.20 L854.9 132.72 L855.3 131.55 L855.7 129.89 L856.1 128.73 L856.5 125.25 L856.9 121.15 L857.3 116.57 L857.7 110.47 L858.1 109.52 L858.5 111.67 L858.9 114.58 L859.3 118.39 L859.7 121.55 L860.1 124.60 L860.5 127.08 L860.9 129.07 L861.3 129.26 L861.7 129.78 L862.1 129.57 L862.5 129.89 L862.9 130.11 L863.3 130.29 L863.7 134.00 L864.1 139.64 L864.5 144.09 L864.9 145.93 L865.3 146.52 L865.7 147.35 L866.1 147.63 L866.5 148.06 L866.9 148.16 L867.3 148.77 L867.7 149.48 L868.1 150.49 L868.5 151.91 L868.9 152.36 L869.3 152.55 L869.7 151.99 L870.1 151.69 L870.5 150.69 L870.9 151.79 L871.3 153.81 L871.7 156.56 L872.1 159.12 L872.5 160.92 L872.9 162.51 L873.3 164.14 L873.7 166.04 L874.1 167.24 L874.5 168.79 L874.9 170.35 L875.3 171.42 L875.7 171.98 L876.1 171.94 L876.5 171.30 L876.9 166.96 L877.3 160.08 L877.7 152.62 L878.1 145.66 L878.5 140.65 L878.9 137.06 L879.3 134.56 L879.7 132.72 L880.1 129.51 L880.5 125.29 L880.9 115.28 L881.3 112.44 L881.7 112.62 L882.1 112.80 L882.5 113.30 L882.9 113.21 L883.3 112.83 L883.7 112.32 L884.1 111.57 L884.5 112.62 L884.9 115.86 L885.3 119.27 L885.7 123.18 L886.1 125.44 L886.5 127.14 L886.9 128.65 L887.3 129.96 L887.7 131.36 L888.1 132.30 L888.5 133.90 L888.9 135.06 L889.3 136.23 L889.7 136.97 L890.1 136.71 L890.5 135.68 L890.9 133.58 L891.3 130.79 L891.7 127.50 L892.1 124.62 L892.5 119.89 L892.9 113.45 L893.3 109.21 L893.7 109.62 L894.1 112.30 L894.5 116.29 L894.9 120.40 L895.3 122.45 L895.7 123.22 L896.1 123.78 L896.5 124.44 L896.9 125.16 L897.3 126.62 L897.7 128.00 L898.1 131.27 L898.5 135.18 L898.9 137.66 L899.3 139.10 L899.7 139.95 L900.1 140.48 L900.5 140.88 L900.9 141.76 L901.3 142.56 L901.7 144.58 L902.1 147.48 L902.5 150.53 L902.9 153.88 L903.3 155.63 L903.7 156.21 L904.1 156.08 L904.5 155.46 L904.9 155.10 L905.3 155.36 L905.7 154.93 L906.1 155.27 L906.5 156.60 L906.9 157.76 L907.3 158.80 L907.7 158.61 L908.1 158.39 L908.5 158.10 L908.9 158.14 L909.3 159.24 L909.7 162.40 L910.1 166.11 L910.5 170.31 L910.9 173.50 L911.3 175.59 L911.7 175.91 L912.1 174.08 L912.5 171.34 L912.9 167.05 L913.3 162.18 L913.7 157.23 L914.1 151.57 L914.5 146.78 L914.9 142.01 L915.3 137.91 L915.7 134.55 L916.1 130.88 L916.5 126.78 L916.9 122.88 L917.3 118.27 L917.7 111.22 L918.1 107.75 L918.5 108.11 L918.9 108.69 L919.3 108.58 L919.7 109.61 L920.1 110.12 L920.5 111.02 L920.9 112.15 L921.3 114.58 L921.7 117.56 L922.1 120.94 L922.5 123.72 L922.9 126.05 L923.3 128.37 L923.7 130.26 L924.1 132.53 L924.5 134.34 L924.9 135.22 L925.3 136.70 L925.7 137.63 L926.1 138.10 L926.5 138.50 L926.9 136.64 L927.3 132.85 L927.7 127.81 L928.1 123.20 L928.5 115.15 L928.9 112.49 L929.3 112.48 L929.7 113.52 L930.1 114.26 L930.5 115.77 L930.9 117.07 L931.3 118.08 L931.7 119.23 L932.1 119.76 L932.5 120.08 L932.9 120.73 L933.3 121.73 L933.7 124.90 L934.1 129.82 L934.5 133.34 L934.9 134.71 L935.3 134.49 L935.7 134.34 L936.1 134.16 L936.5 135.28 L936.9 143.15 L937.3 147.66 L937.7 152.05 L938.1 154.91 L938.5 157.35 L938.9 158.74 L939.3 160.14 L939.7 160.62 L940.1 161.52 L940.5 162.23 L940.9 162.89 L941.3 163.56 L941.7 164.74 L942.1 164.36 L942.5 162.24 L942.9 159.49 L943.3 156.23 L943.7 154.56 L944.1 154.23 L944.5 156.71 L944.9 159.58 L945.3 163.59 L945.7 167.11 L946.1 169.81 L946.5 170.36 L946.9 169.64 L947.3 168.25 L947.7 166.75 L948.1 164.94 L948.5 163.09 L948.9 162.85 L949.3 163.97 L949.7 165.78 L950.1 166.94 L950.5 164.44 L950.9 155.21 L951.3 142.01 L951.7 128.21 L952.1 122.14 L952.5 120.94 L952.9 119.96 L953.3 118.53 L953.7 117.05 L954.1 114.72 L954.5 112.65 L954.9 109.85 L955.3 107.14 L955.7 104.89 L956.1 104.70 L956.5 105.92 L956.9 108.16 L957.3 110.01 L957.7 112.26 L958.1 112.95 L958.5 112.91 L958.9 112.16 L959.3 111.75 L959.7 111.67 L960.1 128.29 L960.5 131.45 L960.9 133.54 L961.3 134.07 L961.7 134.42 L962.1 132.78 L962.5 128.94 L962.9 125.00 L963.3 120.63 L963.7 118.15 L964.1 118.00 L964.5 122.00 L964.9 126.18 L965.3 129.63 L965.7 129.24 L966.1 126.57 L966.5 122.84 L966.9 119.68 L967.3 118.05 L967.7 119.15 L968.1 121.33 L968.5 123.62 L968.9 126.03 L969.3 126.38 L969.7 126.25 L970.1 125.58 L970.5 124.73 L970.9 124.23 L971.3 125.60 L971.7 128.12 L972.1 131.28 L972.5 134.96 L972.9 140.48 L973.3 145.89 L973.7 150.54 L974.1 152.14 L974.5 153.59 L974.9 154.12 L975.3 155.30 L975.7 158.45 L976.1 163.74 L976.5 168.79 L976.9 171.59 L977.3 171.09 L977.7 169.76 L978.1 168.64 L978.5 167.00 L978.9 165.25 L979.3 164.55 L979.7 163.34 L980.1 163.43 L980.5 163.45 L980.9 163.77 L981.3 164.35 L981.7 164.45 L982.1 164.26 L982.5 164.13 L982.9 162.33 L983.3 159.85 L983.7 157.60 L984.1 155.51 L984.5 155.09 L984.9 155.36 L985.3 156.47 L985.7 158.06 L986.1 158.00 L986.5 157.42 L986.9 155.48 L987.3 152.42 L987.7 147.16 L988.1 133.07 L988.5 130.17 L988.9 131.30 L989.3 132.27 L989.7 133.63 L990.1 132.89 L990.5 130.27 L990.9 126.41 L991.3 122.35 L991.7 117.29 L992.1 111.06 L992.5 106.59 L992.9 105.93 L993.3 107.40 L993.7 107.88 L994.1 107.32 L994.5 104.66 L994.9 102.75 L995.3 102.47 L995.7 103.18 L996.1 104.77 L996.5 107.16 L996.9 109.29 L997.3 111.21 L997.7 113.18 L998.1 114.44 L998.5 115.03 L998.9 114.38 L999.3 113.76 L999.7 112.97 L1000.1 121.93 L1000.5 135.92 L1000.9 135.03 L1001.3 133.54 L1001.7 132.16 L1002.1 130.37 L1002.5 129.32 L1002.9 128.88 L1003.3 130.81 L1003.7 133.36 L1004.1 135.25 L1004.5 135.22 L1004.9 134.02 L1005.3 131.41 L1005.7 128.55 L1006.1 126.08 L1006.5 125.13 L1006.9 125.66 L1007.3 127.80 L1007.7 131.60 L1008.1 135.42 L1008.5 139.07 L1008.9 141.46 L1009.3 142.61 L1009.7 144.07 L1010.1 145.28 L1010.5 147.02 L1010.9 149.34 L1011.3 151.54 L1011.7 154.05 L1012.1 157.19 L1012.5 160.35 L1012.9 163.85 L1013.3 168.32 L1013.7 172.28 L1014.1 172.64 L1014.5 171.93 L1014.9 170.53 L1015.3 167.83 L1015.7 165.54 L1016.1 162.63 L1016.5 159.93 L1016.9 157.66 L1017.3 155.33 L1017.7 153.30 L1018.1 151.38 L1018.5 148.99 L1018.9 147.34 L1019.3 146.55 L1019.7 146.40 L1020.1 146.44 L1020.5 146.59 L1020.9 147.23 L1021.3 147.29 L1021.7 147.62 L1022.1 148.77 L1022.5 150.85 L1022.9 153.43 L1023.3 156.25 L1023.7 157.78 L1024.1 158.75 L1024.5 158.45 L1024.9 157.16 L1025.3 154.59 L1025.7 152.24 L1026.1 148.82 L1026.5 145.27 L1026.9 138.70 L1027.3 131.42 L1027.7 126.15 L1028.1 122.36 L1028.5 118.85 L1028.9 113.59 L1029.3 107.76 L1029.7 102.14 L1030.1 98.47 L1030.5 97.35 L1030.9 97.39 L1031.3 97.58 L1031.7 97.24 L1032.1 96.15 L1032.5 95.14 L1032.9 94.75 L1033.3 95.53 L1033.7 97.25 L1034.1 99.22 L1034.5 101.33 L1034.9 102.97 L1035.3 104.86 L1035.7 106.32 L1036.1 109.20 L1036.5 114.93 L1036.9 120.74 L1037.3 124.41 L1037.7 127.72 L1038.1 130.31 L1038.5 132.96 L1038.9 135.69 L1039.3 137.67 L1039.7 139.36 L1040.1 141.21 L1040.5 143.11 L1040.9 144.77 L1041.3 145.51 L1041.7 145.87 L1042.1 144.99 L1042.5 144.18 L1042.9 142.56 L1043.3 141.86 L1043.7 140.76 L1044.1 140.54 L1044.5 141.14 L1044.9 141.11 L1045.3 141.54 L1045.7 141.86 L1046.1 142.49 L1046.5 144.35 L1046.9 148.10 L1047.3 152.27 L1047.7 154.50 L1048.1 155.35 L1048.5 155.57 L1048.9 156.32 L1049.3 157.15 L1049.7 159.00 L1050.1 161.35 L1050.5 163.82 L1050.9 166.82 L1051.3 169.47 L1051.7 171.05 L1052.1 171.03 L1052.5 170.03 L1052.9 168.26 L1053.3 165.44 L1053.7 162.07 L1054.1 158.89 L1054.5 155.94 L1054.9 153.24 L1055.3 149.50 L1055.7 146.30 L1056.1 143.07 L1056.5 140.09 L1056.9 138.81 L1057.3 137.21 L1057.7 136.41 L1058.1 135.42 L1058.5 134.90 L1058.9 134.38 L1059.3 134.31 L1059.7 134.05 L1060.1 133.51 L1060.5 133.39 L1060.9 134.71 L1061.3 138.07 L1061.7 142.69 L1062.1 145.26 L1062.5 145.19 L1062.9 144.35 L1063.3 143.58 L1063.7 142.35 L1064.1 141.36 L1064.5 139.82 L1064.9 136.58 L1065.3 131.75 L1065.7 127.52 L1066.1 126.34 L1066.5 125.23 L1066.9 124.86 L1067.3 124.23 L1067.7 123.69 L1068.1 123.14 L1068.5 122.05 L1068.9 119.47 L1069.3 114.07 L1069.7 114.65 L1070.1 114.27 L1070.5 114.08 L1070.9 113.17 L1071.3 112.43 L1071.7 111.34 L1072.1 111.71 L1072.5 113.28 L1072.9 115.85 L1073.3 118.59 L1073.7 120.21 L1074.1 122.05 L1074.5 123.86 L1074.9 124.90 L1075.3 125.89 L1075.7 127.15 L1076.1 128.40 L1076.5 129.56 L1076.9 130.62 L1077.3 131.88 L1077.7 132.89 L1078.1 134.34 L1078.5 135.80 L1078.9 136.80 L1079.3 136.97 L1079.7 137.69 L1080.1 138.22 L1080.5 138.82 L1080.9 139.40 L1081.3 139.98 L1081.7 140.69 L1082.1 141.14 L1082.5 142.03 L1082.9 142.19 L1083.3 143.26 L1083.7 143.28 L1084.1 144.22 L1084.5 144.71 L1084.9 145.60 L1085.3 146.54 L1085.7 148.40 L1086.1 150.67 L1086.5 152.11 L1086.9 153.52 L1087.3 154.86 L1087.7 155.77 L1088.1 157.10 L1088.5 157.48 L1088.9 157.66 L1089.3 157.51 L1089.7 157.14 L1090.1 155.98 L1090.5 155.00 L1090.9 152.51 L1091.3 149.95 L1091.7 147.19 L1092.1 146.35 L1092.5 145.51 L1092.9 145.52 L1093.3 144.40 L1093.7 143.06 L1094.1 139.65 L1094.5 137.23 L1094.9 135.67 L1095.3 136.81 L1095.7 138.63 L1096.1 139.43 L1096.5 139.16 L1096.9 137.58 L1097.3 135.86 L1097.6 133.16" stroke="#0000ff" stroke-width="2.50" fill="none" stroke-linejoin="round" stroke-linecap="round"/></g>
<rect x="71.0" y="26.0" width="1090.0" height="321.0" fill="none" stroke="#8a8a8a" stroke-width="2"/>
<text class="t" transform="translate(71.00 371.50) scale(0.987 1.075)" text-anchor="middle">0</text>
<text class="t" transform="translate(207.25 371.50) scale(0.987 1.075)" text-anchor="middle">0.02</text>
<text class="t" transform="translate(343.50 371.50) scale(0.987 1.075)" text-anchor="middle">0.04</text>
<text class="t" transform="translate(479.75 371.50) scale(0.987 1.075)" text-anchor="middle">0.06</text>
<text class="t" transform="translate(616.00 371.50) scale(0.987 1.075)" text-anchor="middle">0.08</text>
<text class="t" transform="translate(752.25 371.50) scale(0.987 1.075)" text-anchor="middle">0.1</text>
<g transform="translate(752.25 371.50) scale(0.987 1.075)" fill="#fff"><rect x="3.19" y="-2.39" width="4.51" height="2.99"/><rect x="9.66" y="-2.39" width="4.45" height="2.99"/></g>
<text class="t" transform="translate(888.50 371.50) scale(0.987 1.075)" text-anchor="middle">0.12</text>
<g transform="translate(888.50 371.50) scale(0.987 1.075)" fill="#fff"><rect x="-2.38" y="-2.39" width="4.51" height="2.99"/><rect x="4.10" y="-2.39" width="4.45" height="2.99"/></g>
<text class="t" transform="translate(1024.75 371.50) scale(0.987 1.075)" text-anchor="middle">0.14</text>
<g transform="translate(1024.75 371.50) scale(0.987 1.075)" fill="#fff"><rect x="-2.38" y="-2.39" width="4.51" height="2.99"/><rect x="4.10" y="-2.39" width="4.45" height="2.99"/></g>
<text class="t" transform="translate(1161.00 371.50) scale(0.987 1.075)" text-anchor="middle">0.16</text>
<g transform="translate(1161.00 371.50) scale(0.987 1.075)" fill="#fff"><rect x="-2.38" y="-2.39" width="4.51" height="2.99"/><rect x="4.10" y="-2.39" width="4.45" height="2.99"/></g>
<text class="t" transform="translate(64.00 32.80) scale(0.987 1.075)" text-anchor="end">0.3</text>
<text class="t" transform="translate(64.00 86.30) scale(0.987 1.075)" text-anchor="end">0.2</text>
<text class="t" transform="translate(64.00 139.80) scale(0.987 1.075)" text-anchor="end">0.1</text>
<g transform="translate(64.00 139.80) scale(0.987 1.075)" fill="#fff"><rect x="-10.71" y="-2.39" width="4.51" height="2.99"/><rect x="-4.23" y="-2.39" width="4.45" height="2.99"/></g>
<text class="t" transform="translate(64.00 193.30) scale(0.987 1.075)" text-anchor="end">0</text>
<text class="t" transform="translate(64.00 246.80) scale(0.987 1.075)" text-anchor="end">-0.1</text>
<g transform="translate(64.00 246.80) scale(0.987 1.075)" fill="#fff"><rect x="-10.71" y="-2.39" width="4.51" height="2.99"/><rect x="-4.23" y="-2.39" width="4.45" height="2.99"/></g>
<text class="t" transform="translate(64.00 300.30) scale(0.987 1.075)" text-anchor="end">-0.2</text>
<text class="t" transform="translate(64.00 353.80) scale(0.987 1.075)" text-anchor="end">-0.3</text>
<text class="l" transform="translate(616.30 397.80) scale(1.022 1.070)" text-anchor="middle">Time (s)</text>
<text class="l" transform="translate(19.00 186.10) rotate(-90) scale(1.011 0.980)" text-anchor="middle">Amplitude</text>
<text class="h" transform="translate(615.60 17.95) scale(1.011 1.045)" text-anchor="middle">MAT-006-108-0011</text>
<g transform="translate(615.60 17.95) scale(1.011 1.045)" fill="#fff"><rect x="2.41" y="-3.10" width="4.68" height="3.70"/><rect x="10.25" y="-3.10" width="4.51" height="3.70"/><rect x="69.66" y="-3.10" width="4.68" height="3.70"/><rect x="77.50" y="-3.10" width="4.51" height="3.70"/><rect x="80.47" y="-3.10" width="4.68" height="3.70"/><rect x="88.32" y="-3.10" width="4.51" height="3.70"/></g>
</svg></body></html>
